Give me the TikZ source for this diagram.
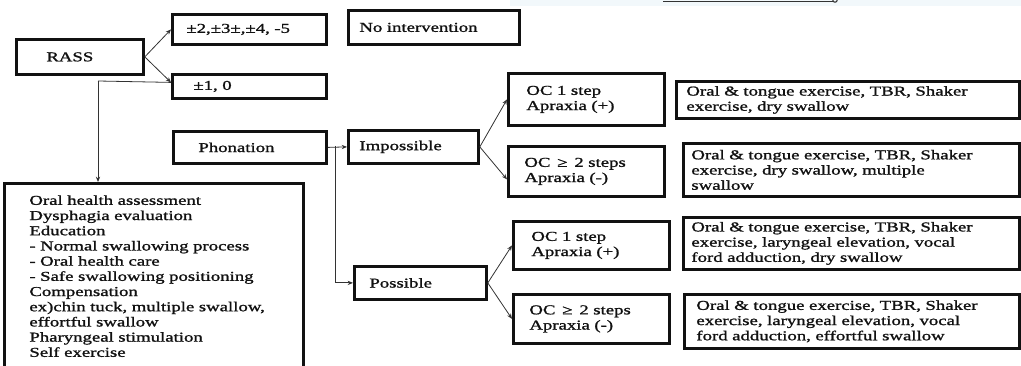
\documentclass[tikz,border=0pt]{standalone}
\usepackage{fontspec}
\setmainfont{Liberation Serif}[FakeStretch=1.38, FakeBold=1.3]
\usepackage{xcolor}
\usetikzlibrary{arrows.meta,calc}
\definecolor{Ink}     {HTML}{111111}
\definecolor{LinkGrey}{HTML}{333333}
\definecolor{StripBlue}{HTML}{F2F8FB}

\tikzset{
  box/.style={draw=Ink, line width=2.1pt, anchor=north west, align=left,
              inner ysep=0pt, text=Ink},
  arr/.style={draw=LinkGrey, line width=0.6pt,
              -{Stealth[length=4pt, width=3.2pt]}},
  link/.style={draw=LinkGrey, line width=0.6pt},
}

\begin{document}
\begin{tikzpicture}[x=0.75pt, y=-0.75pt,
    font=\fontsize{10.2}{11.4}\selectfont]

  \useasboundingbox (0,0) rectangle (1021,366);
  \clip (0,0) rectangle (1021,366);

  % ===== PAGE EDGE (cut-off header) =====
  \fill[StripBlue] (510,0) rectangle (1021,6);
  \draw[line width=0.8pt, LinkGrey] (663,1.5) -- (833,1.5);
  \draw[line width=0.8pt, LinkGrey] (835,0) circle (2.2);

  % ===== RASS =====
  \node[box, inner xsep=30*0.75pt, text width=67*0.75pt,
        minimum height=35*0.75pt] (rass) at (15,38) {RASS};
  \node[box, inner xsep=14*0.75pt, text width=126*0.75pt,
        minimum height=30*0.75pt] (high) at (171,13)
        {\mbox{±2,±3±,±4, -5}};
  \node[box, inner xsep=11*0.75pt, text width=149*0.75pt,
        minimum height=34*0.75pt] (none) at (347,9) {No intervention};
  \node[box, inner xsep=21*0.75pt, text width=112*0.75pt,
        minimum height=24*0.75pt] (low) at (171,73) {±1, 0};

  % ===== BASIC CARE =====
  \node[box, inner xsep=25*0.75pt, inner ysep=12*0.75pt,
        text width=249*0.75pt] (care) at (3,182)
        {Oral health assessment\\
         Dysphagia evaluation\\
         Education\\
         - Normal swallowing process\\
         - Oral health care\\
         - Safe swallowing positioning\\
         Compensation\\
         ex)chin tuck, multiple swallow,\\
         effortful swallow\\
         Pharyngeal stimulation\\
         Self exercise};

  % ===== PHONATION =====
  \node[box, inner xsep=25*0.75pt, text width=103*0.75pt,
        minimum height=32*0.75pt] (phon) at (172,130) {Phonation};
  \node[box, inner xsep=11*0.75pt, text width=108*0.75pt,
        minimum height=33*0.75pt] (imp) at (347,129) {Impossible};
  \node[box, inner xsep=15*0.75pt, text width=102*0.75pt,
        minimum height=33*0.75pt] (poss) at (353,265) {Possible};

  % ===== ORAL COMMAND =====
  \node[box, inner xsep=18*0.75pt, text width=120*0.75pt,
        minimum height=52*0.75pt] (ocimpA) at (507,72)
        {OC 1 step\\Apraxia (+)};
  \node[box, inner xsep=16*0.75pt, text width=124*0.75pt,
        minimum height=50*0.75pt] (ocimpB) at (507,145)
        {OC\enspace≥\enspace2 steps\\Apraxia (-)};
  \node[box, inner xsep=18*0.75pt, text width=120*0.75pt,
        minimum height=48*0.75pt] (ocposA) at (512,220)
        {OC 1 step\\Apraxia (+)};
  \node[box, inner xsep=16*0.75pt, text width=124*0.75pt,
        minimum height=49*0.75pt] (ocposB) at (512,293)
        {OC\enspace≥\enspace2 steps\\Apraxia (-)};

  % ===== EXERCISES =====
  \node[box, inner xsep=10*0.75pt, text width=323*0.75pt,
        minimum height=37*0.75pt] (exA) at (675,80)
        {Oral \& tongue exercise, TBR, Shaker\\
         exercise, dry swallow};
  \node[box, inner xsep=8*0.75pt, text width=320*0.75pt,
        minimum height=53*0.75pt] (exB) at (682,142)
        {Oral \& tongue exercise, TBR, Shaker\\
         exercise, dry swallow, multiple\\
         swallow};
  \node[box, inner xsep=8*0.75pt, text width=320*0.75pt,
        minimum height=52*0.75pt] (exC) at (682,216)
        {Oral \& tongue exercise, TBR, Shaker\\
         exercise, laryngeal elevation, vocal\\
         ford adduction, dry swallow};
  \node[box, inner xsep=12*0.75pt, text width=311*0.75pt,
        minimum height=54*0.75pt] (exD) at (683,293)
        {Oral \& tongue exercise, TBR, Shaker\\
         exercise, laryngeal elevation, vocal\\
         ford adduction, effortful swallow};

  % ===== CONNECTORS =====
  \coordinate (lowin) at ([yshift=3pt]low.west);
  \coordinate (drop)  at (98,81);
  \coordinate (split) at (335,146);
  \draw[arr] (rass.east) -- (high.west);
  \draw[arr] (rass.east) -- (lowin);
  \draw[link] (lowin) -- (drop);
  \draw[arr] (drop) -- (drop |- care.north);
  \draw[arr] (phon.east) -- (imp.west);
  \draw[arr] (split) |- (poss.west);
  \draw[arr] (imp.east) -- (ocimpA.west);
  \draw[arr] (imp.east) -- ([yshift=-6pt]ocimpB.west);
  \draw[arr] (poss.east) -- (ocposA.west);
  \draw[arr] (poss.east) -- (ocposB.west);

\end{tikzpicture}
\end{document}
